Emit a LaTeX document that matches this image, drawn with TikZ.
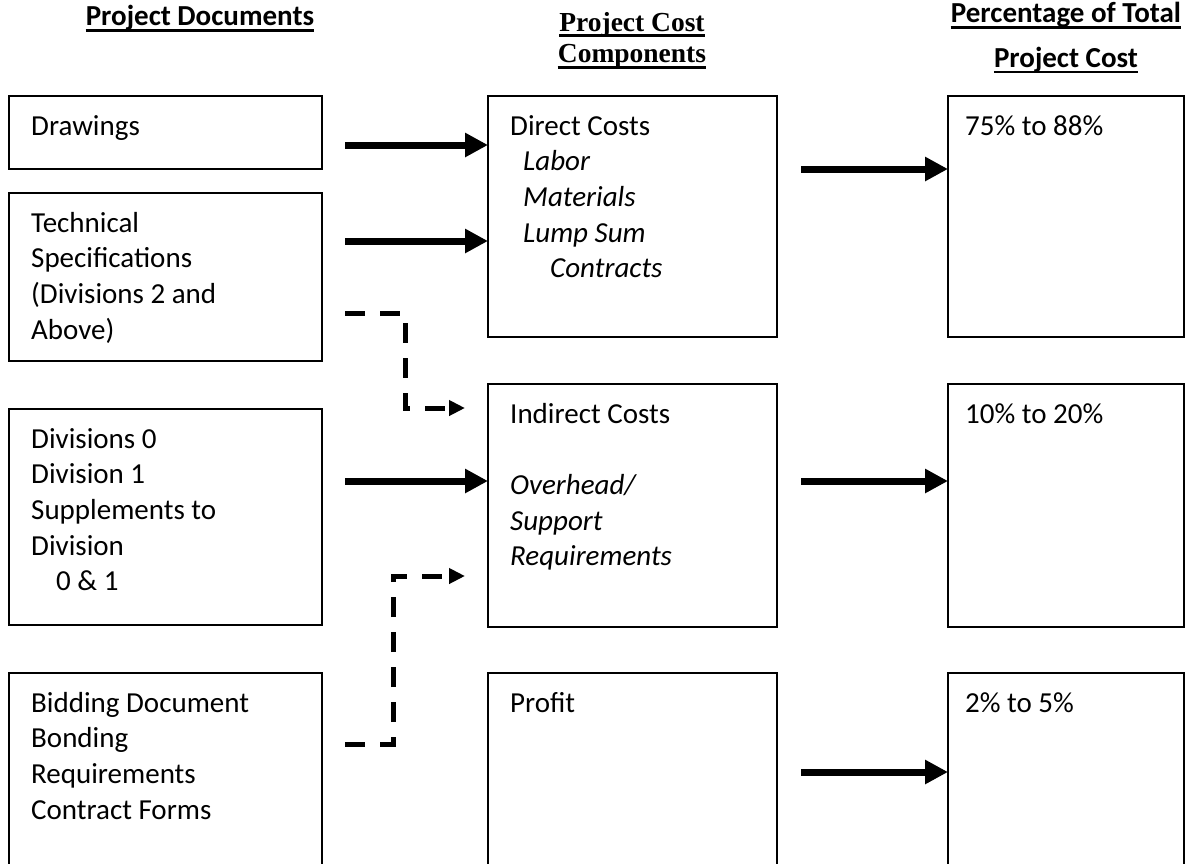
\documentclass[tikz,border=0pt]{standalone}
\usepackage{fontspec}
\setmainfont{Carlito}
\newfontfamily\tnr{Liberation Serif}
\usetikzlibrary{arrows.meta}
\newcommand{\mylines}[1]{\vtop{\baselineskip=35.7pt\lineskiplimit=-100pt\halign{##\hfil\cr#1\crcr}}}
\begin{document}
\begin{tikzpicture}[x=1pt,y=-1pt,
  box/.style={draw, line width=1.6pt, anchor=north west, inner sep=0pt, outer sep=0pt},
  txt/.style={anchor=base west, inner sep=0pt, font=\fontsize{29}{35.7}\selectfont},
  hd/.style={anchor=base, inner sep=0pt, font=\bfseries\fontsize{29}{35}\selectfont},
  hdt/.style={anchor=base, inner sep=0pt, font=\tnr\bfseries\fontsize{27.5}{31}\selectfont},
  uline/.style={line width=2.5pt},
  bigarrow/.style={line width=7pt, -{Triangle[length=23pt,width=23pt]}},
  dasharrow/.style={line width=5pt, dash pattern=on 20pt off 15pt, -{Triangle[length=16pt,width=15pt]}},
]
\useasboundingbox (0,0) rectangle (1185,863);
\clip (0,0) rectangle (1185,863);

% boxes
\node[box, minimum width=313pt, minimum height=73pt]  (L1) at (9,96) {};
\node[box, minimum width=313pt, minimum height=168pt] (L2) at (9,193) {};
\node[box, minimum width=313pt, minimum height=216pt] (L3) at (9,409) {};
\node[box, minimum width=313pt, minimum height=250pt] (L4) at (9,673) {};
\node[box, minimum width=289pt, minimum height=241pt] (M1) at (488,96) {};
\node[box, minimum width=289pt, minimum height=243pt] (M2) at (488,384) {};
\node[box, minimum width=289pt, minimum height=250pt] (M3) at (488,673) {};
\node[box, minimum width=236pt, minimum height=241pt] (R1) at (948,96) {};
\node[box, minimum width=236pt, minimum height=243pt] (R2) at (948,384) {};
\node[box, minimum width=236pt, minimum height=250pt] (R3) at (948,673) {};

% texts
\node[txt] (tL1) at (31,135) {Drawings};
\node[txt] (tL2) at (31,232) {\mylines{Technical\cr Specifications\cr (Divisions 2 and\cr Above)}};
\node[txt] (tL3) at (31,448) {\mylines{Divisions 0\cr Division 1\cr Supplements to\cr Division\cr \hspace{25pt}0 \& 1}};
\node[txt] (tL4) at (31,712) {\mylines{Bidding Document\cr Bonding\cr Requirements\cr Contract Forms}};
\node[txt] (tM1) at (510,135) {\mylines{Direct Costs\cr \hspace{13pt}\textit{Labor}\cr \hspace{13pt}\textit{Materials}\cr \hspace{13pt}\textit{Lump Sum}\cr \hspace{40pt}\textit{Contracts}}};
\node[txt] (tM2) at (510,423) {\mylines{Indirect Costs\cr \cr \textit{Overhead/}\cr \textit{Support}\cr \textit{Requirements}}};
\node[txt] (tM3) at (510,712) {Profit};
\node[txt] (tR1) at (965,135) {75\% to 88\%};
\node[txt] (tR2) at (965,423) {10\% to 20\%};
\node[txt] (tR3) at (965,712) {2\% to 5\%};

% headers
\node[hd]  (h1)  at (200,25)  {Project Documents};
\node[hdt] (h2a) at (632,31)  {Project Cost};
\node[hdt] (h2b) at (632,62)  {Components};
\node[hd]  (h3a) at (1066,22) {Percentage of Total};
\node[hd]  (h3b) at (1066,67) {Project Cost};
\draw[uline] ([yshift=-5.5pt]h1.base west) -- ([yshift=-5.5pt]h1.base east);
\draw[uline] ([yshift=-4.5pt]h2a.base west) -- ([yshift=-4.5pt]h2a.base east);
\draw[uline] ([yshift=-5.5pt]h2b.base west) -- ([yshift=-5.5pt]h2b.base east);
\draw[uline] ([yshift=-5.5pt]h3a.base west) -- ([yshift=-5.5pt]h3a.base east);
\draw[uline] ([yshift=-5pt]h3b.base west) -- ([yshift=-5pt]h3b.base east);

% solid arrows
\coordinate (s1) at (345,145);
\coordinate (s2) at (345,241);
\coordinate (s3) at (345,481);
\coordinate (s4) at (801,169);
\coordinate (s5) at (801,481);
\coordinate (s6) at (801,772);
\draw[bigarrow] (s1) -- (s1 -| M1.west);
\draw[bigarrow] (s2) -- (s2 -| M1.west);
\draw[bigarrow] (s3) -- (s3 -| M2.west);
\draw[bigarrow] (s4) -- (s4 -| R1.west);
\draw[bigarrow] (s5) -- (s5 -| R2.west);
\draw[bigarrow] (s6) -- (s6 -| R3.west);

% dashed arrows
\coordinate (d1) at (345,313);
\coordinate (e1) at (465,408);
\coordinate (d2) at (345,744);
\coordinate (e2) at (465,576);
\draw[dasharrow] (d1) -- ++(60,0) |- (e1);
\draw[dasharrow] (d2) -- ++(48,0) |- (e2);
\end{tikzpicture}
\end{document}
